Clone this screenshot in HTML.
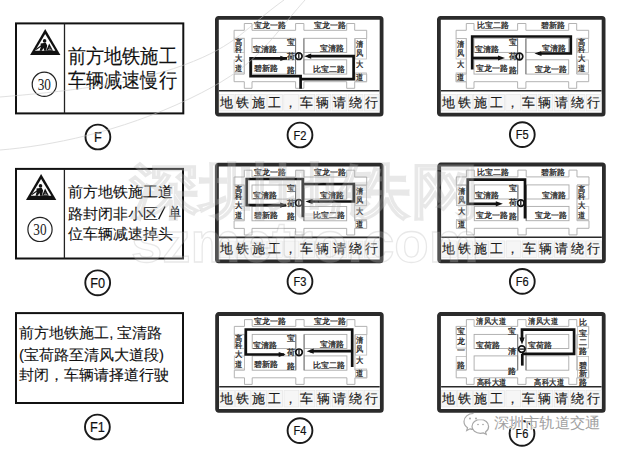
<!DOCTYPE html>
<html><head><meta charset="utf-8"><title>signs</title>
<style>
html,body{margin:0;padding:0;width:620px;height:450px;overflow:hidden;background:#fff}
svg{position:absolute;left:0;top:0;display:block}
text{font-family:"Liberation Sans", sans-serif}
</style></head><body>
<svg width="620" height="450" viewBox="0 0 620 450">
<rect x="16" y="23.4" width="167.3" height="90" fill="none" stroke="#111" stroke-width="2"/>
<line x1="64.5" y1="23.4" x2="64.5" y2="113.4" stroke="#222" stroke-width="1.3"/>
<g transform="translate(45.2,28.9) scale(1.0)"><path d="M0,0 L15.2,26 L-15.1,26 Z" fill="#111"/><path d="M0,5.2 L10.2,21.8 L-10.1,21.8 Z" fill="#fff"/><circle cx="-0.6" cy="12.0" r="1.8" fill="#111"/><path d="M-4.6,14.6 L0.6,13.9 L2.0,16.5 L0.9,21.8 L-1.0,21.8 L-1.6,19.2 L-3.4,21.8 L-5.6,21.8 L-4.4,18.2 Z" fill="#111"/><path d="M-9.2,20.6 L-3.8,16.8" stroke="#111" stroke-width="1.1"/><path d="M1.0,21.8 L4.0,14.6 L7.8,21.8 Z" fill="#111"/><path d="M3.6,19.2 L5.2,19.2 M2.8,20.6 L6.2,20.6" stroke="#fff" stroke-width="0.5"/></g>
<circle cx="44.3" cy="84.3" r="12.1" fill="none" stroke="#222" stroke-width="1.2"/>
<text x="44.3" y="89.89999999999999" style="font-family:'Liberation Serif',serif" font-size="17" fill="#222" text-anchor="middle" transform="translate(44.3,0) scale(0.78,1) translate(-44.3,0)">30</text>
<text x="68.2" y="0" font-size="18" fill="#111" stroke="#111" stroke-width="0.12" transform="translate(0,62.5) scale(1,1.1)">前方地铁施工</text>
<text x="68.2" y="0" font-size="18" fill="#111" stroke="#111" stroke-width="0.12" transform="translate(0,87.2) scale(1,1.1)">车辆减速慢行</text>
<circle cx="97.9" cy="137" r="12.4" fill="none" stroke="#1a1a1a" stroke-width="1.9"/>
<text x="97.9" y="142.19" font-size="14.5" fill="#111" stroke="#111" stroke-width="0.2" text-anchor="middle" transform="translate(97.9,0) scale(0.88,1) translate(-97.9,0)">F</text>
<rect x="16" y="168.9" width="167" height="89.6" fill="none" stroke="#111" stroke-width="2"/>
<line x1="64.4" y1="168.9" x2="64.4" y2="258.5" stroke="#222" stroke-width="1.3"/>
<g transform="translate(41.1,173.9) scale(1.0)"><path d="M0,0 L15.2,26 L-15.1,26 Z" fill="#111"/><path d="M0,5.2 L10.2,21.8 L-10.1,21.8 Z" fill="#fff"/><circle cx="-0.6" cy="12.0" r="1.8" fill="#111"/><path d="M-4.6,14.6 L0.6,13.9 L2.0,16.5 L0.9,21.8 L-1.0,21.8 L-1.6,19.2 L-3.4,21.8 L-5.6,21.8 L-4.4,18.2 Z" fill="#111"/><path d="M-9.2,20.6 L-3.8,16.8" stroke="#111" stroke-width="1.1"/><path d="M1.0,21.8 L4.0,14.6 L7.8,21.8 Z" fill="#111"/><path d="M3.6,19.2 L5.2,19.2 M2.8,20.6 L6.2,20.6" stroke="#fff" stroke-width="0.5"/></g>
<circle cx="40.0" cy="229.4" r="12.1" fill="none" stroke="#222" stroke-width="1.2"/>
<text x="40.0" y="235.0" style="font-family:'Liberation Serif',serif" font-size="17" fill="#222" text-anchor="middle" transform="translate(40.0,0) scale(0.78,1) translate(-40.0,0)">30</text>
<text x="68.0" y="196.5" font-size="15" fill="#111" stroke="#111" stroke-width="0.12" >前方地铁施工道</text>
<text x="68.0" y="218.5" font-size="15" fill="#111" stroke="#111" stroke-width="0.12" >路封闭非小区</text>
<text x="0" y="218.5" font-size="15" fill="#111" stroke="#111" stroke-width="0.12" transform="translate(169.2,0) scale(0.8,1)">单</text>
<line x1="158.6" y1="219.2" x2="165" y2="206.5" stroke="#111" stroke-width="1.3"/>
<text x="68.0" y="238.5" font-size="15" fill="#111" stroke="#111" stroke-width="0.12" >位车辆减速掉头</text>
<circle cx="97.7" cy="282.8" r="12.4" fill="none" stroke="#1a1a1a" stroke-width="1.9"/>
<text x="97.7" y="287.99" font-size="14.5" fill="#111" stroke="#111" stroke-width="0.2" text-anchor="middle" transform="translate(97.7,0) scale(0.88,1) translate(-97.7,0)">F0</text>
<rect x="16" y="313.1" width="167" height="89.9" fill="none" stroke="#111" stroke-width="2"/>
<text x="19.2" y="337.8" font-size="15" fill="#111" stroke="#111" stroke-width="0.12" >前方地铁施工<tspan dx="0">,</tspan><tspan dx="4">宝清路</tspan></text>
<text x="19.0" y="359.7" font-size="15" fill="#111" stroke="#111" stroke-width="0.12" >(宝荷路至清风大道段)</text>
<text x="18.8" y="380.2" font-size="15" fill="#111" stroke="#111" stroke-width="0.12" >封闭，车辆请择道行驶</text>
<circle cx="97.4" cy="427" r="12.4" fill="none" stroke="#1a1a1a" stroke-width="1.9"/>
<text x="97.4" y="432.19" font-size="14.5" fill="#111" stroke="#111" stroke-width="0.2" text-anchor="middle" transform="translate(97.4,0) scale(0.88,1) translate(-97.4,0)">F1</text>
<g>
<g transform="translate(215,16)">
<rect x="1.9" y="1.9" width="164.7" height="96.8" rx="1.6" fill="#fff" stroke="#2b2b2b" stroke-width="3.8"/>
<line x1="4" y1="74.7" x2="164.5" y2="74.7" stroke="#2a2a2a" stroke-width="1.6"/>
<path d="M19.1,14.3 L29.3,14.3 L29.3,7.5 L37,7.5 L37,14.3 L80.6,14.3 L80.6,7.5 L88.9,7.5 L88.9,14.3 L131.7,14.3 L131.7,7.5 L139.7,7.5 L139.7,14.3 L151.7,14.3 L151.7,22.5 L139.7,22.5 L139.7,58.1 L151.7,58.1 L151.7,65.7 L139.7,65.7 L139.7,72.3 L131.7,72.3 L131.7,65.7 L88.9,65.7 L88.9,72.3 L80.6,72.3 L80.6,65.7 L37,65.7 L37,72.3 L29.3,72.3 L29.3,65.7 L19.1,65.7 L19.1,58.1 L29.3,58.1 L29.3,22.5 L19.1,22.5 Z" fill="none" stroke="#aaa" stroke-width="0.9"/>
<rect x="37" y="22.3" width="43.599999999999994" height="14.099999999999998" fill="none" stroke="#aaa" stroke-width="0.9"/>
<rect x="37" y="43.8" width="43.599999999999994" height="14.300000000000004" fill="none" stroke="#aaa" stroke-width="0.9"/>
<rect x="88.9" y="22.3" width="42.79999999999998" height="14.099999999999998" fill="none" stroke="#aaa" stroke-width="0.9"/>
<rect x="88.9" y="43.8" width="42.79999999999998" height="14.300000000000004" fill="none" stroke="#aaa" stroke-width="0.9"/>
<line x1="80.6" y1="22.5" x2="80.6" y2="58.1" stroke="#777" stroke-width="1"/>
<line x1="88.9" y1="22.5" x2="88.9" y2="58.1" stroke="#777" stroke-width="1"/>
<rect x="19.1" y="22.2" width="10.2" height="14.2" fill="none" stroke="#bbb" stroke-width="0.8"/>
<rect x="19.1" y="44.0" width="10.2" height="12.899999999999999" fill="none" stroke="#bbb" stroke-width="0.8"/>
<rect x="140.3" y="22.4" width="11.199999999999989" height="20.6" fill="none" stroke="#bbb" stroke-width="0.8"/>
<rect x="140.3" y="56.9" width="11.199999999999989" height="8.899999999999999" fill="none" stroke="#bbb" stroke-width="0.8"/>
<text x="38.5" y="12.1" font-size="8.2" fill="#262626" stroke="#262626" stroke-width="0.28">宝龙一路</text>
<text x="98.5" y="12.2" font-size="8.2" fill="#262626" stroke="#262626" stroke-width="0.28">宝龙一路</text>
<text x="0" y="29.0" font-size="8.2" fill="#262626" stroke="#262626" stroke-width="0.28" transform="translate(20.2,0) scale(0.9,1)">高</text>
<text x="0" y="36.0" font-size="8.2" fill="#262626" stroke="#262626" stroke-width="0.28" transform="translate(20.2,0) scale(0.9,1)">科</text>
<text x="0" y="45.3" font-size="8.2" fill="#262626" stroke="#262626" stroke-width="0.28" transform="translate(20.2,0) scale(0.9,1)">大</text>
<text x="0" y="55.2" font-size="8.2" fill="#262626" stroke="#262626" stroke-width="0.28" transform="translate(20.2,0) scale(0.9,1)">道</text>
<text x="0" y="31.2" font-size="8.2" fill="#262626" stroke="#262626" stroke-width="0.28" transform="translate(141.0,0) scale(0.9,1)">清</text>
<text x="0" y="40.1" font-size="8.2" fill="#262626" stroke="#262626" stroke-width="0.28" transform="translate(141.0,0) scale(0.9,1)">风</text>
<text x="0" y="51.2" font-size="8.2" fill="#262626" stroke="#262626" stroke-width="0.28" transform="translate(141.0,0) scale(0.9,1)">大</text>
<text x="0" y="64.0" font-size="8.2" fill="#262626" stroke="#262626" stroke-width="0.28" transform="translate(141.0,0) scale(0.9,1)">道</text>
<text x="37.5" y="35.5" font-size="8.2" fill="#262626" stroke="#262626" stroke-width="0.28">宝清路</text>
<text x="38.8" y="55.4" font-size="8.2" fill="#262626" stroke="#262626" stroke-width="0.28">碧新路</text>
<text x="129.2" y="35.0" font-size="8.2" fill="#262626" stroke="#262626" stroke-width="0.28"><tspan text-anchor="end">宝清路</tspan></text>
<text x="130.0" y="55.7" font-size="8.2" fill="#262626" stroke="#262626" stroke-width="0.28"><tspan text-anchor="end">比宝二路</tspan></text>
<text x="72.2" y="28.8" font-size="8.2" fill="#262626" stroke="#262626" stroke-width="0.28">宝</text>
<text x="72.2" y="42.9" font-size="8.2" fill="#262626" stroke="#262626" stroke-width="0.28">荷</text>
<text x="72.2" y="56.5" font-size="8.2" fill="#262626" stroke="#262626" stroke-width="0.28">路</text>
<rect x="4.4" y="78.3" width="14.8" height="16.6" fill="#f6f6f6" stroke="#e3e3e3" stroke-width="0.6"/>
<text x="11.3" y="90.7" font-size="13.4" fill="#1a1a1a" stroke="#1a1a1a" stroke-width="0.15" text-anchor="middle">地</text>
<rect x="20.5" y="78.3" width="14.8" height="16.6" fill="#f6f6f6" stroke="#e3e3e3" stroke-width="0.6"/>
<text x="27.4" y="90.7" font-size="13.4" fill="#1a1a1a" stroke="#1a1a1a" stroke-width="0.15" text-anchor="middle">铁</text>
<rect x="36.6" y="78.3" width="14.8" height="16.6" fill="#f6f6f6" stroke="#e3e3e3" stroke-width="0.6"/>
<text x="43.5" y="90.7" font-size="13.4" fill="#1a1a1a" stroke="#1a1a1a" stroke-width="0.15" text-anchor="middle">施</text>
<rect x="52.7" y="78.3" width="14.8" height="16.6" fill="#f6f6f6" stroke="#e3e3e3" stroke-width="0.6"/>
<text x="59.6" y="90.7" font-size="13.4" fill="#1a1a1a" stroke="#1a1a1a" stroke-width="0.15" text-anchor="middle">工</text>
<rect x="68.8" y="78.3" width="14.8" height="16.6" fill="#f6f6f6" stroke="#e3e3e3" stroke-width="0.6"/>
<text x="75.7" y="90.7" font-size="13.4" fill="#1a1a1a" stroke="#1a1a1a" stroke-width="0.15" text-anchor="middle">，</text>
<rect x="84.9" y="78.3" width="14.8" height="16.6" fill="#f6f6f6" stroke="#e3e3e3" stroke-width="0.6"/>
<text x="91.8" y="90.7" font-size="13.4" fill="#1a1a1a" stroke="#1a1a1a" stroke-width="0.15" text-anchor="middle">车</text>
<rect x="101.0" y="78.3" width="14.8" height="16.6" fill="#f6f6f6" stroke="#e3e3e3" stroke-width="0.6"/>
<text x="107.9" y="90.7" font-size="13.4" fill="#1a1a1a" stroke="#1a1a1a" stroke-width="0.15" text-anchor="middle">辆</text>
<rect x="117.1" y="78.3" width="14.8" height="16.6" fill="#f6f6f6" stroke="#e3e3e3" stroke-width="0.6"/>
<text x="124.0" y="90.7" font-size="13.4" fill="#1a1a1a" stroke="#1a1a1a" stroke-width="0.15" text-anchor="middle">请</text>
<rect x="133.2" y="78.3" width="14.8" height="16.6" fill="#f6f6f6" stroke="#e3e3e3" stroke-width="0.6"/>
<text x="140.1" y="90.7" font-size="13.4" fill="#1a1a1a" stroke="#1a1a1a" stroke-width="0.15" text-anchor="middle">绕</text>
<rect x="149.3" y="78.3" width="14.8" height="16.6" fill="#f6f6f6" stroke="#e3e3e3" stroke-width="0.6"/>
<text x="156.2" y="90.7" font-size="13.4" fill="#1a1a1a" stroke="#1a1a1a" stroke-width="0.15" text-anchor="middle">行</text>
<path d="M72,42.4 L35.6,42.4 L35.6,60.2 L85.6,60.2 L85.6,72.7" fill="none" stroke="#111" stroke-width="2.7" stroke-linejoin="miter" stroke-linecap="butt"/>
<path d="M93,40.2 L138.6,40.2 L138.6,63.1 L85.6,63.1" fill="none" stroke="#111" stroke-width="2.7" stroke-linejoin="miter" stroke-linecap="butt"/>
<circle cx="83.8" cy="40.2" r="3.3" fill="#fff" stroke="#111" stroke-width="1.7"/>
<line x1="83.8" y1="37.800000000000004" x2="83.8" y2="42.6" stroke="#111" stroke-width="1.3"/>
</g>
<g transform="translate(215,16)"><path d="M72.3,42.4 L65.3,39.8 L65.3,45.0 Z" fill="#111"/><path d="M89.2,40.2 L96.2,37.6 L96.2,42.800000000000004 Z" fill="#111"/></g>
</g>
<circle cx="300" cy="135" r="12.4" fill="none" stroke="#1a1a1a" stroke-width="1.9"/>
<text x="300" y="139.51" font-size="12.6" fill="#111" stroke="#111" stroke-width="0.2" text-anchor="middle" transform="translate(300,0) scale(0.88,1) translate(-300,0)">F2</text>
<g transform="translate(215,162.7)">
<rect x="1.9" y="1.9" width="164.7" height="96.8" rx="1.6" fill="#fff" stroke="#2b2b2b" stroke-width="3.8"/>
<line x1="4" y1="74.7" x2="164.5" y2="74.7" stroke="#2a2a2a" stroke-width="1.6"/>
<path d="M19.1,14.3 L29.3,14.3 L29.3,7.5 L37,7.5 L37,14.3 L80.6,14.3 L80.6,7.5 L88.9,7.5 L88.9,14.3 L131.7,14.3 L131.7,7.5 L139.7,7.5 L139.7,14.3 L151.7,14.3 L151.7,22.5 L139.7,22.5 L139.7,58.1 L151.7,58.1 L151.7,65.7 L139.7,65.7 L139.7,72.3 L131.7,72.3 L131.7,65.7 L88.9,65.7 L88.9,72.3 L80.6,72.3 L80.6,65.7 L37,65.7 L37,72.3 L29.3,72.3 L29.3,65.7 L19.1,65.7 L19.1,58.1 L29.3,58.1 L29.3,22.5 L19.1,22.5 Z" fill="none" stroke="#aaa" stroke-width="0.9"/>
<rect x="37" y="22.3" width="43.599999999999994" height="14.099999999999998" fill="none" stroke="#aaa" stroke-width="0.9"/>
<rect x="37" y="43.8" width="43.599999999999994" height="14.300000000000004" fill="none" stroke="#aaa" stroke-width="0.9"/>
<rect x="88.9" y="22.3" width="42.79999999999998" height="14.099999999999998" fill="none" stroke="#aaa" stroke-width="0.9"/>
<rect x="88.9" y="43.8" width="42.79999999999998" height="14.300000000000004" fill="none" stroke="#aaa" stroke-width="0.9"/>
<line x1="80.6" y1="22.5" x2="80.6" y2="58.1" stroke="#777" stroke-width="1"/>
<line x1="88.9" y1="22.5" x2="88.9" y2="58.1" stroke="#777" stroke-width="1"/>
<rect x="19.1" y="22.2" width="10.2" height="14.2" fill="none" stroke="#bbb" stroke-width="0.8"/>
<rect x="19.1" y="44.0" width="10.2" height="12.899999999999999" fill="none" stroke="#bbb" stroke-width="0.8"/>
<rect x="140.3" y="22.4" width="11.199999999999989" height="20.6" fill="none" stroke="#bbb" stroke-width="0.8"/>
<rect x="140.3" y="56.9" width="11.199999999999989" height="8.899999999999999" fill="none" stroke="#bbb" stroke-width="0.8"/>
<text x="38.5" y="12.1" font-size="8.2" fill="#262626" stroke="#262626" stroke-width="0.28">宝龙一路</text>
<text x="98.5" y="12.2" font-size="8.2" fill="#262626" stroke="#262626" stroke-width="0.28">宝龙一路</text>
<text x="0" y="29.0" font-size="8.2" fill="#262626" stroke="#262626" stroke-width="0.28" transform="translate(20.2,0) scale(0.9,1)">高</text>
<text x="0" y="36.0" font-size="8.2" fill="#262626" stroke="#262626" stroke-width="0.28" transform="translate(20.2,0) scale(0.9,1)">科</text>
<text x="0" y="45.3" font-size="8.2" fill="#262626" stroke="#262626" stroke-width="0.28" transform="translate(20.2,0) scale(0.9,1)">大</text>
<text x="0" y="55.2" font-size="8.2" fill="#262626" stroke="#262626" stroke-width="0.28" transform="translate(20.2,0) scale(0.9,1)">道</text>
<text x="0" y="31.2" font-size="8.2" fill="#262626" stroke="#262626" stroke-width="0.28" transform="translate(141.0,0) scale(0.9,1)">清</text>
<text x="0" y="40.1" font-size="8.2" fill="#262626" stroke="#262626" stroke-width="0.28" transform="translate(141.0,0) scale(0.9,1)">风</text>
<text x="0" y="51.2" font-size="8.2" fill="#262626" stroke="#262626" stroke-width="0.28" transform="translate(141.0,0) scale(0.9,1)">大</text>
<text x="0" y="64.0" font-size="8.2" fill="#262626" stroke="#262626" stroke-width="0.28" transform="translate(141.0,0) scale(0.9,1)">道</text>
<text x="37.5" y="35.5" font-size="8.2" fill="#262626" stroke="#262626" stroke-width="0.28">宝清路</text>
<text x="38.8" y="55.4" font-size="8.2" fill="#262626" stroke="#262626" stroke-width="0.28">碧新路</text>
<text x="129.2" y="35.0" font-size="8.2" fill="#262626" stroke="#262626" stroke-width="0.28"><tspan text-anchor="end">宝清路</tspan></text>
<text x="130.0" y="55.7" font-size="8.2" fill="#262626" stroke="#262626" stroke-width="0.28"><tspan text-anchor="end">比宝二路</tspan></text>
<text x="72.2" y="28.8" font-size="8.2" fill="#262626" stroke="#262626" stroke-width="0.28">宝</text>
<text x="72.2" y="42.9" font-size="8.2" fill="#262626" stroke="#262626" stroke-width="0.28">荷</text>
<text x="72.2" y="56.5" font-size="8.2" fill="#262626" stroke="#262626" stroke-width="0.28">路</text>
<rect x="4.4" y="78.3" width="14.8" height="16.6" fill="#f6f6f6" stroke="#e3e3e3" stroke-width="0.6"/>
<text x="11.3" y="90.7" font-size="13.4" fill="#1a1a1a" stroke="#1a1a1a" stroke-width="0.15" text-anchor="middle">地</text>
<rect x="20.5" y="78.3" width="14.8" height="16.6" fill="#f6f6f6" stroke="#e3e3e3" stroke-width="0.6"/>
<text x="27.4" y="90.7" font-size="13.4" fill="#1a1a1a" stroke="#1a1a1a" stroke-width="0.15" text-anchor="middle">铁</text>
<rect x="36.6" y="78.3" width="14.8" height="16.6" fill="#f6f6f6" stroke="#e3e3e3" stroke-width="0.6"/>
<text x="43.5" y="90.7" font-size="13.4" fill="#1a1a1a" stroke="#1a1a1a" stroke-width="0.15" text-anchor="middle">施</text>
<rect x="52.7" y="78.3" width="14.8" height="16.6" fill="#f6f6f6" stroke="#e3e3e3" stroke-width="0.6"/>
<text x="59.6" y="90.7" font-size="13.4" fill="#1a1a1a" stroke="#1a1a1a" stroke-width="0.15" text-anchor="middle">工</text>
<rect x="68.8" y="78.3" width="14.8" height="16.6" fill="#f6f6f6" stroke="#e3e3e3" stroke-width="0.6"/>
<text x="75.7" y="90.7" font-size="13.4" fill="#1a1a1a" stroke="#1a1a1a" stroke-width="0.15" text-anchor="middle">，</text>
<rect x="84.9" y="78.3" width="14.8" height="16.6" fill="#f6f6f6" stroke="#e3e3e3" stroke-width="0.6"/>
<text x="91.8" y="90.7" font-size="13.4" fill="#1a1a1a" stroke="#1a1a1a" stroke-width="0.15" text-anchor="middle">车</text>
<rect x="101.0" y="78.3" width="14.8" height="16.6" fill="#f6f6f6" stroke="#e3e3e3" stroke-width="0.6"/>
<text x="107.9" y="90.7" font-size="13.4" fill="#1a1a1a" stroke="#1a1a1a" stroke-width="0.15" text-anchor="middle">辆</text>
<rect x="117.1" y="78.3" width="14.8" height="16.6" fill="#f6f6f6" stroke="#e3e3e3" stroke-width="0.6"/>
<text x="124.0" y="90.7" font-size="13.4" fill="#1a1a1a" stroke="#1a1a1a" stroke-width="0.15" text-anchor="middle">请</text>
<rect x="133.2" y="78.3" width="14.8" height="16.6" fill="#f6f6f6" stroke="#e3e3e3" stroke-width="0.6"/>
<text x="140.1" y="90.7" font-size="13.4" fill="#1a1a1a" stroke="#1a1a1a" stroke-width="0.15" text-anchor="middle">绕</text>
<rect x="149.3" y="78.3" width="14.8" height="16.6" fill="#f6f6f6" stroke="#e3e3e3" stroke-width="0.6"/>
<text x="156.2" y="90.7" font-size="13.4" fill="#1a1a1a" stroke="#1a1a1a" stroke-width="0.15" text-anchor="middle">行</text>
<path d="M71,42.5 L31.7,42.5 L31.7,16.3 L87.8,16.3 L87.8,54.5" fill="none" stroke="#111" stroke-width="2.7" stroke-linejoin="miter" stroke-linecap="butt"/>
<path d="M87.8,21.3 L138.8,21.3 L138.8,38.8 L95,38.8" fill="none" stroke="#111" stroke-width="2.7" stroke-linejoin="miter" stroke-linecap="butt"/>
<circle cx="83.8" cy="40.2" r="3.3" fill="#fff" stroke="#111" stroke-width="1.7"/>
<line x1="83.8" y1="37.800000000000004" x2="83.8" y2="42.6" stroke="#111" stroke-width="1.3"/>
</g>
<g transform="translate(215,162.7)"><path d="M72.2,42.5 L65.2,39.9 L65.2,45.1 Z" fill="#111"/><path d="M90.5,38.8 L97.5,36.199999999999996 L97.5,41.4 Z" fill="#111"/></g>
<circle cx="300" cy="281.4" r="12.4" fill="none" stroke="#1a1a1a" stroke-width="1.9"/>
<text x="300" y="285.91" font-size="12.6" fill="#111" stroke="#111" stroke-width="0.2" text-anchor="middle" transform="translate(300,0) scale(0.88,1) translate(-300,0)">F3</text>
<g transform="translate(215.2,312.1)">
<rect x="1.9" y="1.9" width="164.7" height="96.8" rx="1.6" fill="#fff" stroke="#2b2b2b" stroke-width="3.8"/>
<line x1="4" y1="74.7" x2="164.5" y2="74.7" stroke="#2a2a2a" stroke-width="1.6"/>
<path d="M19.1,14.3 L29.3,14.3 L29.3,7.5 L37,7.5 L37,14.3 L80.6,14.3 L80.6,7.5 L88.9,7.5 L88.9,14.3 L131.7,14.3 L131.7,7.5 L139.7,7.5 L139.7,14.3 L151.7,14.3 L151.7,22.5 L139.7,22.5 L139.7,58.1 L151.7,58.1 L151.7,65.7 L139.7,65.7 L139.7,72.3 L131.7,72.3 L131.7,65.7 L88.9,65.7 L88.9,72.3 L80.6,72.3 L80.6,65.7 L37,65.7 L37,72.3 L29.3,72.3 L29.3,65.7 L19.1,65.7 L19.1,58.1 L29.3,58.1 L29.3,22.5 L19.1,22.5 Z" fill="none" stroke="#aaa" stroke-width="0.9"/>
<rect x="37" y="22.3" width="43.599999999999994" height="14.099999999999998" fill="none" stroke="#aaa" stroke-width="0.9"/>
<rect x="37" y="43.8" width="43.599999999999994" height="14.300000000000004" fill="none" stroke="#aaa" stroke-width="0.9"/>
<rect x="88.9" y="22.3" width="42.79999999999998" height="14.099999999999998" fill="none" stroke="#aaa" stroke-width="0.9"/>
<rect x="88.9" y="43.8" width="42.79999999999998" height="14.300000000000004" fill="none" stroke="#aaa" stroke-width="0.9"/>
<line x1="80.6" y1="22.5" x2="80.6" y2="58.1" stroke="#777" stroke-width="1"/>
<line x1="88.9" y1="22.5" x2="88.9" y2="58.1" stroke="#777" stroke-width="1"/>
<rect x="19.1" y="22.2" width="10.2" height="14.2" fill="none" stroke="#bbb" stroke-width="0.8"/>
<rect x="19.1" y="44.0" width="10.2" height="12.899999999999999" fill="none" stroke="#bbb" stroke-width="0.8"/>
<rect x="140.3" y="22.4" width="11.199999999999989" height="20.6" fill="none" stroke="#bbb" stroke-width="0.8"/>
<rect x="140.3" y="56.9" width="11.199999999999989" height="8.899999999999999" fill="none" stroke="#bbb" stroke-width="0.8"/>
<text x="38.5" y="12.1" font-size="8.2" fill="#262626" stroke="#262626" stroke-width="0.28">宝龙一路</text>
<text x="98.5" y="12.2" font-size="8.2" fill="#262626" stroke="#262626" stroke-width="0.28">宝龙一路</text>
<text x="0" y="29.0" font-size="8.2" fill="#262626" stroke="#262626" stroke-width="0.28" transform="translate(20.2,0) scale(0.9,1)">高</text>
<text x="0" y="36.0" font-size="8.2" fill="#262626" stroke="#262626" stroke-width="0.28" transform="translate(20.2,0) scale(0.9,1)">科</text>
<text x="0" y="45.3" font-size="8.2" fill="#262626" stroke="#262626" stroke-width="0.28" transform="translate(20.2,0) scale(0.9,1)">大</text>
<text x="0" y="55.2" font-size="8.2" fill="#262626" stroke="#262626" stroke-width="0.28" transform="translate(20.2,0) scale(0.9,1)">道</text>
<text x="0" y="31.2" font-size="8.2" fill="#262626" stroke="#262626" stroke-width="0.28" transform="translate(141.0,0) scale(0.9,1)">清</text>
<text x="0" y="40.1" font-size="8.2" fill="#262626" stroke="#262626" stroke-width="0.28" transform="translate(141.0,0) scale(0.9,1)">风</text>
<text x="0" y="51.2" font-size="8.2" fill="#262626" stroke="#262626" stroke-width="0.28" transform="translate(141.0,0) scale(0.9,1)">大</text>
<text x="0" y="64.0" font-size="8.2" fill="#262626" stroke="#262626" stroke-width="0.28" transform="translate(141.0,0) scale(0.9,1)">道</text>
<text x="37.5" y="35.5" font-size="8.2" fill="#262626" stroke="#262626" stroke-width="0.28">宝清路</text>
<text x="38.8" y="55.4" font-size="8.2" fill="#262626" stroke="#262626" stroke-width="0.28">碧新路</text>
<text x="129.2" y="35.0" font-size="8.2" fill="#262626" stroke="#262626" stroke-width="0.28"><tspan text-anchor="end">宝清路</tspan></text>
<text x="130.0" y="55.7" font-size="8.2" fill="#262626" stroke="#262626" stroke-width="0.28"><tspan text-anchor="end">比宝二路</tspan></text>
<text x="72.2" y="28.8" font-size="8.2" fill="#262626" stroke="#262626" stroke-width="0.28">宝</text>
<text x="72.2" y="42.9" font-size="8.2" fill="#262626" stroke="#262626" stroke-width="0.28">荷</text>
<text x="72.2" y="56.5" font-size="8.2" fill="#262626" stroke="#262626" stroke-width="0.28">路</text>
<rect x="4.4" y="78.3" width="14.8" height="16.6" fill="#f6f6f6" stroke="#e3e3e3" stroke-width="0.6"/>
<text x="11.3" y="90.7" font-size="13.4" fill="#1a1a1a" stroke="#1a1a1a" stroke-width="0.15" text-anchor="middle">地</text>
<rect x="20.5" y="78.3" width="14.8" height="16.6" fill="#f6f6f6" stroke="#e3e3e3" stroke-width="0.6"/>
<text x="27.4" y="90.7" font-size="13.4" fill="#1a1a1a" stroke="#1a1a1a" stroke-width="0.15" text-anchor="middle">铁</text>
<rect x="36.6" y="78.3" width="14.8" height="16.6" fill="#f6f6f6" stroke="#e3e3e3" stroke-width="0.6"/>
<text x="43.5" y="90.7" font-size="13.4" fill="#1a1a1a" stroke="#1a1a1a" stroke-width="0.15" text-anchor="middle">施</text>
<rect x="52.7" y="78.3" width="14.8" height="16.6" fill="#f6f6f6" stroke="#e3e3e3" stroke-width="0.6"/>
<text x="59.6" y="90.7" font-size="13.4" fill="#1a1a1a" stroke="#1a1a1a" stroke-width="0.15" text-anchor="middle">工</text>
<rect x="68.8" y="78.3" width="14.8" height="16.6" fill="#f6f6f6" stroke="#e3e3e3" stroke-width="0.6"/>
<text x="75.7" y="90.7" font-size="13.4" fill="#1a1a1a" stroke="#1a1a1a" stroke-width="0.15" text-anchor="middle">，</text>
<rect x="84.9" y="78.3" width="14.8" height="16.6" fill="#f6f6f6" stroke="#e3e3e3" stroke-width="0.6"/>
<text x="91.8" y="90.7" font-size="13.4" fill="#1a1a1a" stroke="#1a1a1a" stroke-width="0.15" text-anchor="middle">车</text>
<rect x="101.0" y="78.3" width="14.8" height="16.6" fill="#f6f6f6" stroke="#e3e3e3" stroke-width="0.6"/>
<text x="107.9" y="90.7" font-size="13.4" fill="#1a1a1a" stroke="#1a1a1a" stroke-width="0.15" text-anchor="middle">辆</text>
<rect x="117.1" y="78.3" width="14.8" height="16.6" fill="#f6f6f6" stroke="#e3e3e3" stroke-width="0.6"/>
<text x="124.0" y="90.7" font-size="13.4" fill="#1a1a1a" stroke="#1a1a1a" stroke-width="0.15" text-anchor="middle">请</text>
<rect x="133.2" y="78.3" width="14.8" height="16.6" fill="#f6f6f6" stroke="#e3e3e3" stroke-width="0.6"/>
<text x="140.1" y="90.7" font-size="13.4" fill="#1a1a1a" stroke="#1a1a1a" stroke-width="0.15" text-anchor="middle">绕</text>
<rect x="149.3" y="78.3" width="14.8" height="16.6" fill="#f6f6f6" stroke="#e3e3e3" stroke-width="0.6"/>
<text x="156.2" y="90.7" font-size="13.4" fill="#1a1a1a" stroke="#1a1a1a" stroke-width="0.15" text-anchor="middle">行</text>
<path d="M69,42.4 L30.6,42.4 L30.6,17.4 L137,17.4 L137,55" fill="none" stroke="#111" stroke-width="2.7" stroke-linejoin="miter" stroke-linecap="butt"/>
<path d="M137,39.1 L95,39.1" fill="none" stroke="#111" stroke-width="2.7" stroke-linejoin="miter" stroke-linecap="butt"/>
<circle cx="83.8" cy="40.2" r="3.3" fill="#fff" stroke="#111" stroke-width="1.7"/>
<line x1="83.8" y1="37.800000000000004" x2="83.8" y2="42.6" stroke="#111" stroke-width="1.3"/>
</g>
<g transform="translate(215.2,312.1)"><path d="M70.5,42.4 L63.5,39.8 L63.5,45.0 Z" fill="#111"/><path d="M91.5,39.1 L98.5,36.5 L98.5,41.7 Z" fill="#111"/></g>
<circle cx="300" cy="430.6" r="12.4" fill="none" stroke="#1a1a1a" stroke-width="1.9"/>
<text x="300" y="435.11" font-size="12.6" fill="#111" stroke="#111" stroke-width="0.2" text-anchor="middle" transform="translate(300,0) scale(0.88,1) translate(-300,0)">F4</text>
<g transform="translate(437,16)">
<rect x="1.9" y="1.9" width="164.7" height="96.8" rx="1.6" fill="#fff" stroke="#2b2b2b" stroke-width="3.8"/>
<line x1="4" y1="74.7" x2="164.5" y2="74.7" stroke="#2a2a2a" stroke-width="1.6"/>
<path d="M19.1,14.3 L29.3,14.3 L29.3,7.5 L37,7.5 L37,14.3 L80.6,14.3 L80.6,7.5 L88.9,7.5 L88.9,14.3 L131.7,14.3 L131.7,7.5 L139.7,7.5 L139.7,14.3 L151.7,14.3 L151.7,22.5 L139.7,22.5 L139.7,58.1 L151.7,58.1 L151.7,65.7 L139.7,65.7 L139.7,72.3 L131.7,72.3 L131.7,65.7 L88.9,65.7 L88.9,72.3 L80.6,72.3 L80.6,65.7 L37,65.7 L37,72.3 L29.3,72.3 L29.3,65.7 L19.1,65.7 L19.1,58.1 L29.3,58.1 L29.3,22.5 L19.1,22.5 Z" fill="none" stroke="#aaa" stroke-width="0.9"/>
<rect x="37" y="22.3" width="43.599999999999994" height="14.099999999999998" fill="none" stroke="#aaa" stroke-width="0.9"/>
<rect x="37" y="43.8" width="43.599999999999994" height="14.300000000000004" fill="none" stroke="#aaa" stroke-width="0.9"/>
<rect x="88.9" y="22.3" width="42.79999999999998" height="14.099999999999998" fill="none" stroke="#aaa" stroke-width="0.9"/>
<rect x="88.9" y="43.8" width="42.79999999999998" height="14.300000000000004" fill="none" stroke="#aaa" stroke-width="0.9"/>
<line x1="80.6" y1="22.5" x2="80.6" y2="58.1" stroke="#777" stroke-width="1"/>
<line x1="88.9" y1="22.5" x2="88.9" y2="58.1" stroke="#777" stroke-width="1"/>
<rect x="19.1" y="22.4" width="10.2" height="20.6" fill="none" stroke="#bbb" stroke-width="0.8"/>
<rect x="19.1" y="56.9" width="10.2" height="8.899999999999999" fill="none" stroke="#bbb" stroke-width="0.8"/>
<rect x="140.3" y="22.2" width="11.199999999999989" height="14.2" fill="none" stroke="#bbb" stroke-width="0.8"/>
<rect x="140.3" y="44.0" width="11.199999999999989" height="12.899999999999999" fill="none" stroke="#bbb" stroke-width="0.8"/>
<text x="39.8" y="12.1" font-size="8.2" fill="#262626" stroke="#262626" stroke-width="0.28">比宝二路</text>
<text x="104.0" y="12.2" font-size="8.2" fill="#262626" stroke="#262626" stroke-width="0.28">碧新路</text>
<text x="0" y="31.2" font-size="8.2" fill="#262626" stroke="#262626" stroke-width="0.28" transform="translate(20.2,0) scale(0.9,1)">清</text>
<text x="0" y="40.1" font-size="8.2" fill="#262626" stroke="#262626" stroke-width="0.28" transform="translate(20.2,0) scale(0.9,1)">风</text>
<text x="0" y="51.2" font-size="8.2" fill="#262626" stroke="#262626" stroke-width="0.28" transform="translate(20.2,0) scale(0.9,1)">大</text>
<text x="0" y="64.0" font-size="8.2" fill="#262626" stroke="#262626" stroke-width="0.28" transform="translate(20.2,0) scale(0.9,1)">道</text>
<text x="0" y="29.0" font-size="8.2" fill="#262626" stroke="#262626" stroke-width="0.28" transform="translate(141.0,0) scale(0.9,1)">高</text>
<text x="0" y="36.0" font-size="8.2" fill="#262626" stroke="#262626" stroke-width="0.28" transform="translate(141.0,0) scale(0.9,1)">科</text>
<text x="0" y="45.3" font-size="8.2" fill="#262626" stroke="#262626" stroke-width="0.28" transform="translate(141.0,0) scale(0.9,1)">大</text>
<text x="0" y="55.2" font-size="8.2" fill="#262626" stroke="#262626" stroke-width="0.28" transform="translate(141.0,0) scale(0.9,1)">道</text>
<text x="37.5" y="35.5" font-size="8.2" fill="#262626" stroke="#262626" stroke-width="0.28">宝清路</text>
<text x="38.8" y="55.4" font-size="8.2" fill="#262626" stroke="#262626" stroke-width="0.28">宝龙一路</text>
<text x="129.2" y="35.0" font-size="8.2" fill="#262626" stroke="#262626" stroke-width="0.28"><tspan text-anchor="end">宝清路</tspan></text>
<text x="130.0" y="55.7" font-size="8.2" fill="#262626" stroke="#262626" stroke-width="0.28"><tspan text-anchor="end">宝龙一路</tspan></text>
<text x="72.2" y="28.8" font-size="8.2" fill="#262626" stroke="#262626" stroke-width="0.28">宝</text>
<text x="72.2" y="42.9" font-size="8.2" fill="#262626" stroke="#262626" stroke-width="0.28">荷</text>
<text x="72.2" y="56.5" font-size="8.2" fill="#262626" stroke="#262626" stroke-width="0.28">路</text>
<rect x="4.4" y="78.3" width="14.8" height="16.6" fill="#f6f6f6" stroke="#e3e3e3" stroke-width="0.6"/>
<text x="11.3" y="90.7" font-size="13.4" fill="#1a1a1a" stroke="#1a1a1a" stroke-width="0.15" text-anchor="middle">地</text>
<rect x="20.5" y="78.3" width="14.8" height="16.6" fill="#f6f6f6" stroke="#e3e3e3" stroke-width="0.6"/>
<text x="27.4" y="90.7" font-size="13.4" fill="#1a1a1a" stroke="#1a1a1a" stroke-width="0.15" text-anchor="middle">铁</text>
<rect x="36.6" y="78.3" width="14.8" height="16.6" fill="#f6f6f6" stroke="#e3e3e3" stroke-width="0.6"/>
<text x="43.5" y="90.7" font-size="13.4" fill="#1a1a1a" stroke="#1a1a1a" stroke-width="0.15" text-anchor="middle">施</text>
<rect x="52.7" y="78.3" width="14.8" height="16.6" fill="#f6f6f6" stroke="#e3e3e3" stroke-width="0.6"/>
<text x="59.6" y="90.7" font-size="13.4" fill="#1a1a1a" stroke="#1a1a1a" stroke-width="0.15" text-anchor="middle">工</text>
<rect x="68.8" y="78.3" width="14.8" height="16.6" fill="#f6f6f6" stroke="#e3e3e3" stroke-width="0.6"/>
<text x="75.7" y="90.7" font-size="13.4" fill="#1a1a1a" stroke="#1a1a1a" stroke-width="0.15" text-anchor="middle">，</text>
<rect x="84.9" y="78.3" width="14.8" height="16.6" fill="#f6f6f6" stroke="#e3e3e3" stroke-width="0.6"/>
<text x="91.8" y="90.7" font-size="13.4" fill="#1a1a1a" stroke="#1a1a1a" stroke-width="0.15" text-anchor="middle">车</text>
<rect x="101.0" y="78.3" width="14.8" height="16.6" fill="#f6f6f6" stroke="#e3e3e3" stroke-width="0.6"/>
<text x="107.9" y="90.7" font-size="13.4" fill="#1a1a1a" stroke="#1a1a1a" stroke-width="0.15" text-anchor="middle">辆</text>
<rect x="117.1" y="78.3" width="14.8" height="16.6" fill="#f6f6f6" stroke="#e3e3e3" stroke-width="0.6"/>
<text x="124.0" y="90.7" font-size="13.4" fill="#1a1a1a" stroke="#1a1a1a" stroke-width="0.15" text-anchor="middle">请</text>
<rect x="133.2" y="78.3" width="14.8" height="16.6" fill="#f6f6f6" stroke="#e3e3e3" stroke-width="0.6"/>
<text x="140.1" y="90.7" font-size="13.4" fill="#1a1a1a" stroke="#1a1a1a" stroke-width="0.15" text-anchor="middle">绕</text>
<rect x="149.3" y="78.3" width="14.8" height="16.6" fill="#f6f6f6" stroke="#e3e3e3" stroke-width="0.6"/>
<text x="156.2" y="90.7" font-size="13.4" fill="#1a1a1a" stroke="#1a1a1a" stroke-width="0.15" text-anchor="middle">行</text>
<path d="M35.2,53.5 L35.2,20.5 L133.8,20.5 L133.8,37.5 L101,37.5" fill="none" stroke="#111" stroke-width="2.7" stroke-linejoin="miter" stroke-linecap="butt"/>
<path d="M35.2,42 L63,42" fill="none" stroke="#111" stroke-width="2.7" stroke-linejoin="miter" stroke-linecap="butt"/>
<circle cx="82.5" cy="40.5" r="3.3" fill="#fff" stroke="#111" stroke-width="1.7"/>
<line x1="82.5" y1="38.1" x2="82.5" y2="42.9" stroke="#111" stroke-width="1.3"/>
</g>
<g transform="translate(437,16)"><path d="M68,42 L61,39.4 L61,44.6 Z" fill="#111"/><path d="M97.5,37.5 L104.5,34.9 L104.5,40.1 Z" fill="#111"/></g>
<circle cx="522.3" cy="134.6" r="12.4" fill="none" stroke="#1a1a1a" stroke-width="1.9"/>
<text x="522.3" y="139.11" font-size="12.6" fill="#111" stroke="#111" stroke-width="0.2" text-anchor="middle" transform="translate(522.3,0) scale(0.88,1) translate(-522.3,0)">F5</text>
<g transform="translate(437.3,162.6)">
<rect x="1.9" y="1.9" width="164.7" height="96.8" rx="1.6" fill="#fff" stroke="#2b2b2b" stroke-width="3.8"/>
<line x1="4" y1="74.7" x2="164.5" y2="74.7" stroke="#2a2a2a" stroke-width="1.6"/>
<path d="M19.1,14.3 L29.3,14.3 L29.3,7.5 L37,7.5 L37,14.3 L80.6,14.3 L80.6,7.5 L88.9,7.5 L88.9,14.3 L131.7,14.3 L131.7,7.5 L139.7,7.5 L139.7,14.3 L151.7,14.3 L151.7,22.5 L139.7,22.5 L139.7,58.1 L151.7,58.1 L151.7,65.7 L139.7,65.7 L139.7,72.3 L131.7,72.3 L131.7,65.7 L88.9,65.7 L88.9,72.3 L80.6,72.3 L80.6,65.7 L37,65.7 L37,72.3 L29.3,72.3 L29.3,65.7 L19.1,65.7 L19.1,58.1 L29.3,58.1 L29.3,22.5 L19.1,22.5 Z" fill="none" stroke="#aaa" stroke-width="0.9"/>
<rect x="37" y="22.3" width="43.599999999999994" height="14.099999999999998" fill="none" stroke="#aaa" stroke-width="0.9"/>
<rect x="37" y="43.8" width="43.599999999999994" height="14.300000000000004" fill="none" stroke="#aaa" stroke-width="0.9"/>
<rect x="88.9" y="22.3" width="42.79999999999998" height="14.099999999999998" fill="none" stroke="#aaa" stroke-width="0.9"/>
<rect x="88.9" y="43.8" width="42.79999999999998" height="14.300000000000004" fill="none" stroke="#aaa" stroke-width="0.9"/>
<line x1="80.6" y1="22.5" x2="80.6" y2="58.1" stroke="#777" stroke-width="1"/>
<line x1="88.9" y1="22.5" x2="88.9" y2="58.1" stroke="#777" stroke-width="1"/>
<rect x="19.1" y="22.4" width="10.2" height="20.6" fill="none" stroke="#bbb" stroke-width="0.8"/>
<rect x="19.1" y="56.9" width="10.2" height="8.899999999999999" fill="none" stroke="#bbb" stroke-width="0.8"/>
<rect x="140.3" y="22.2" width="11.199999999999989" height="14.2" fill="none" stroke="#bbb" stroke-width="0.8"/>
<rect x="140.3" y="44.0" width="11.199999999999989" height="12.899999999999999" fill="none" stroke="#bbb" stroke-width="0.8"/>
<text x="39.8" y="12.1" font-size="8.2" fill="#262626" stroke="#262626" stroke-width="0.28">比宝二路</text>
<text x="104.0" y="12.2" font-size="8.2" fill="#262626" stroke="#262626" stroke-width="0.28">碧新路</text>
<text x="0" y="31.2" font-size="8.2" fill="#262626" stroke="#262626" stroke-width="0.28" transform="translate(20.2,0) scale(0.9,1)">清</text>
<text x="0" y="40.1" font-size="8.2" fill="#262626" stroke="#262626" stroke-width="0.28" transform="translate(20.2,0) scale(0.9,1)">风</text>
<text x="0" y="51.2" font-size="8.2" fill="#262626" stroke="#262626" stroke-width="0.28" transform="translate(20.2,0) scale(0.9,1)">大</text>
<text x="0" y="64.0" font-size="8.2" fill="#262626" stroke="#262626" stroke-width="0.28" transform="translate(20.2,0) scale(0.9,1)">道</text>
<text x="0" y="29.0" font-size="8.2" fill="#262626" stroke="#262626" stroke-width="0.28" transform="translate(141.0,0) scale(0.9,1)">高</text>
<text x="0" y="36.0" font-size="8.2" fill="#262626" stroke="#262626" stroke-width="0.28" transform="translate(141.0,0) scale(0.9,1)">科</text>
<text x="0" y="45.3" font-size="8.2" fill="#262626" stroke="#262626" stroke-width="0.28" transform="translate(141.0,0) scale(0.9,1)">大</text>
<text x="0" y="55.2" font-size="8.2" fill="#262626" stroke="#262626" stroke-width="0.28" transform="translate(141.0,0) scale(0.9,1)">道</text>
<text x="37.5" y="35.5" font-size="8.2" fill="#262626" stroke="#262626" stroke-width="0.28">宝清路</text>
<text x="38.8" y="55.4" font-size="8.2" fill="#262626" stroke="#262626" stroke-width="0.28">宝龙一路</text>
<text x="129.2" y="35.0" font-size="8.2" fill="#262626" stroke="#262626" stroke-width="0.28"><tspan text-anchor="end">宝清路</tspan></text>
<text x="130.0" y="55.7" font-size="8.2" fill="#262626" stroke="#262626" stroke-width="0.28"><tspan text-anchor="end">宝龙一路</tspan></text>
<text x="72.2" y="28.8" font-size="8.2" fill="#262626" stroke="#262626" stroke-width="0.28">宝</text>
<text x="72.2" y="42.9" font-size="8.2" fill="#262626" stroke="#262626" stroke-width="0.28">荷</text>
<text x="72.2" y="56.5" font-size="8.2" fill="#262626" stroke="#262626" stroke-width="0.28">路</text>
<rect x="4.4" y="78.3" width="14.8" height="16.6" fill="#f6f6f6" stroke="#e3e3e3" stroke-width="0.6"/>
<text x="11.3" y="90.7" font-size="13.4" fill="#1a1a1a" stroke="#1a1a1a" stroke-width="0.15" text-anchor="middle">地</text>
<rect x="20.5" y="78.3" width="14.8" height="16.6" fill="#f6f6f6" stroke="#e3e3e3" stroke-width="0.6"/>
<text x="27.4" y="90.7" font-size="13.4" fill="#1a1a1a" stroke="#1a1a1a" stroke-width="0.15" text-anchor="middle">铁</text>
<rect x="36.6" y="78.3" width="14.8" height="16.6" fill="#f6f6f6" stroke="#e3e3e3" stroke-width="0.6"/>
<text x="43.5" y="90.7" font-size="13.4" fill="#1a1a1a" stroke="#1a1a1a" stroke-width="0.15" text-anchor="middle">施</text>
<rect x="52.7" y="78.3" width="14.8" height="16.6" fill="#f6f6f6" stroke="#e3e3e3" stroke-width="0.6"/>
<text x="59.6" y="90.7" font-size="13.4" fill="#1a1a1a" stroke="#1a1a1a" stroke-width="0.15" text-anchor="middle">工</text>
<rect x="68.8" y="78.3" width="14.8" height="16.6" fill="#f6f6f6" stroke="#e3e3e3" stroke-width="0.6"/>
<text x="75.7" y="90.7" font-size="13.4" fill="#1a1a1a" stroke="#1a1a1a" stroke-width="0.15" text-anchor="middle">，</text>
<rect x="84.9" y="78.3" width="14.8" height="16.6" fill="#f6f6f6" stroke="#e3e3e3" stroke-width="0.6"/>
<text x="91.8" y="90.7" font-size="13.4" fill="#1a1a1a" stroke="#1a1a1a" stroke-width="0.15" text-anchor="middle">车</text>
<rect x="101.0" y="78.3" width="14.8" height="16.6" fill="#f6f6f6" stroke="#e3e3e3" stroke-width="0.6"/>
<text x="107.9" y="90.7" font-size="13.4" fill="#1a1a1a" stroke="#1a1a1a" stroke-width="0.15" text-anchor="middle">辆</text>
<rect x="117.1" y="78.3" width="14.8" height="16.6" fill="#f6f6f6" stroke="#e3e3e3" stroke-width="0.6"/>
<text x="124.0" y="90.7" font-size="13.4" fill="#1a1a1a" stroke="#1a1a1a" stroke-width="0.15" text-anchor="middle">请</text>
<rect x="133.2" y="78.3" width="14.8" height="16.6" fill="#f6f6f6" stroke="#e3e3e3" stroke-width="0.6"/>
<text x="140.1" y="90.7" font-size="13.4" fill="#1a1a1a" stroke="#1a1a1a" stroke-width="0.15" text-anchor="middle">绕</text>
<rect x="149.3" y="78.3" width="14.8" height="16.6" fill="#f6f6f6" stroke="#e3e3e3" stroke-width="0.6"/>
<text x="156.2" y="90.7" font-size="13.4" fill="#1a1a1a" stroke="#1a1a1a" stroke-width="0.15" text-anchor="middle">行</text>
<path d="M60,41.2 L30.5,41.2 L30.5,17 L87.7,17 L87.7,56" fill="none" stroke="#111" stroke-width="2.7" stroke-linejoin="miter" stroke-linecap="butt"/>
<circle cx="83.5" cy="40.5" r="3.3" fill="#fff" stroke="#111" stroke-width="1.7"/>
<line x1="83.5" y1="38.1" x2="83.5" y2="42.9" stroke="#111" stroke-width="1.3"/>
</g>
<g transform="translate(437.3,162.6)"><path d="M65.5,41.2 L58.5,38.6 L58.5,43.800000000000004 Z" fill="#111"/></g>
<circle cx="522.3" cy="281.4" r="12.4" fill="none" stroke="#1a1a1a" stroke-width="1.9"/>
<text x="522.3" y="285.91" font-size="12.6" fill="#111" stroke="#111" stroke-width="0.2" text-anchor="middle" transform="translate(522.3,0) scale(0.88,1) translate(-522.3,0)">F6</text>
<g transform="translate(437.1,312.1)">
<rect x="1.9" y="1.9" width="164.7" height="96.8" rx="1.6" fill="#fff" stroke="#2b2b2b" stroke-width="3.8"/>
<line x1="4" y1="74.7" x2="164.5" y2="74.7" stroke="#2a2a2a" stroke-width="1.6"/>
<path d="M19.1,14.3 L29.3,14.3 L29.3,7.5 L37,7.5 L37,14.3 L80.6,14.3 L80.6,7.5 L88.9,7.5 L88.9,14.3 L131.7,14.3 L131.7,7.5 L139.7,7.5 L139.7,14.3 L151.7,14.3 L151.7,22.5 L139.7,22.5 L139.7,58.1 L151.7,58.1 L151.7,65.7 L139.7,65.7 L139.7,72.3 L131.7,72.3 L131.7,65.7 L88.9,65.7 L88.9,72.3 L80.6,72.3 L80.6,65.7 L37,65.7 L37,72.3 L29.3,72.3 L29.3,65.7 L19.1,65.7 L19.1,58.1 L29.3,58.1 L29.3,22.5 L19.1,22.5 Z" fill="none" stroke="#aaa" stroke-width="0.9"/>
<rect x="37" y="22.3" width="43.599999999999994" height="14.099999999999998" fill="none" stroke="#aaa" stroke-width="0.9"/>
<rect x="37" y="43.8" width="43.599999999999994" height="14.300000000000004" fill="none" stroke="#aaa" stroke-width="0.9"/>
<rect x="88.9" y="22.3" width="42.79999999999998" height="14.099999999999998" fill="none" stroke="#aaa" stroke-width="0.9"/>
<rect x="88.9" y="43.8" width="42.79999999999998" height="14.300000000000004" fill="none" stroke="#aaa" stroke-width="0.9"/>
<line x1="80.6" y1="22.5" x2="80.6" y2="58.1" stroke="#777" stroke-width="1"/>
<line x1="88.9" y1="22.5" x2="88.9" y2="58.1" stroke="#777" stroke-width="1"/>
<rect x="19.1" y="14.3" width="10.2" height="21.7" fill="none" stroke="#bbb" stroke-width="0.8"/>
<rect x="19.1" y="44.3" width="10.2" height="13.200000000000003" fill="none" stroke="#bbb" stroke-width="0.8"/>
<rect x="140.3" y="14.3" width="11.199999999999989" height="21.7" fill="none" stroke="#bbb" stroke-width="0.8"/>
<rect x="140.3" y="44.3" width="11.199999999999989" height="21.400000000000006" fill="none" stroke="#bbb" stroke-width="0.8"/>
<text x="0" y="12.4" font-size="8.2" fill="#262626" stroke="#262626" stroke-width="0.28" transform="translate(39,0) scale(0.9,1)">清风大道</text>
<text x="0" y="12.4" font-size="8.2" fill="#262626" stroke="#262626" stroke-width="0.28" transform="translate(91,0) scale(0.9,1)">清风大道</text>
<text x="0" y="73" font-size="8.2" fill="#262626" stroke="#262626" stroke-width="0.28" transform="translate(39.5,0) scale(0.9,1)">高科大道</text>
<text x="0" y="73" font-size="8.2" fill="#262626" stroke="#262626" stroke-width="0.28" transform="translate(97,0) scale(0.9,1)">高科大道</text>
<text x="19.8" y="21.5" font-size="8.2" fill="#262626" stroke="#262626" stroke-width="0.28">宝</text>
<text x="19.8" y="31.5" font-size="8.2" fill="#262626" stroke="#262626" stroke-width="0.28">龙</text>
<text x="19.8" y="41" font-size="8.2" fill="#262626" stroke="#262626" stroke-width="0.28">一</text>
<text x="19.8" y="56" font-size="8.2" fill="#262626" stroke="#262626" stroke-width="0.28">路</text>
<text x="70.7" y="22" font-size="8.2" fill="#262626" stroke="#262626" stroke-width="0.28">宝</text>
<text x="70.7" y="42" font-size="8.2" fill="#262626" stroke="#262626" stroke-width="0.28">清</text>
<text x="70.7" y="62" font-size="8.2" fill="#262626" stroke="#262626" stroke-width="0.28">路</text>
<text x="39" y="35.7" font-size="8.2" fill="#262626" stroke="#262626" stroke-width="0.28">宝荷路</text>
<text x="91.2" y="35.7" font-size="8.2" fill="#262626" stroke="#262626" stroke-width="0.28">宝荷路</text>
<text x="142" y="13.2" font-size="8.2" fill="#262626" stroke="#262626" stroke-width="0.28">比</text>
<text x="142" y="23.5" font-size="8.2" fill="#262626" stroke="#262626" stroke-width="0.28">宝</text>
<text x="142" y="32.5" font-size="8.2" fill="#262626" stroke="#262626" stroke-width="0.28">二</text>
<text x="142" y="42" font-size="8.2" fill="#262626" stroke="#262626" stroke-width="0.28">路</text>
<text x="142" y="55.5" font-size="8.2" fill="#262626" stroke="#262626" stroke-width="0.28">碧</text>
<text x="142" y="64" font-size="8.2" fill="#262626" stroke="#262626" stroke-width="0.28">新</text>
<text x="142" y="73" font-size="8.2" fill="#262626" stroke="#262626" stroke-width="0.28">路</text>
<rect x="4.4" y="78.3" width="14.8" height="16.6" fill="#f6f6f6" stroke="#e3e3e3" stroke-width="0.6"/>
<text x="11.3" y="90.7" font-size="13.4" fill="#1a1a1a" stroke="#1a1a1a" stroke-width="0.15" text-anchor="middle">地</text>
<rect x="20.5" y="78.3" width="14.8" height="16.6" fill="#f6f6f6" stroke="#e3e3e3" stroke-width="0.6"/>
<text x="27.4" y="90.7" font-size="13.4" fill="#1a1a1a" stroke="#1a1a1a" stroke-width="0.15" text-anchor="middle">铁</text>
<rect x="36.6" y="78.3" width="14.8" height="16.6" fill="#f6f6f6" stroke="#e3e3e3" stroke-width="0.6"/>
<text x="43.5" y="90.7" font-size="13.4" fill="#1a1a1a" stroke="#1a1a1a" stroke-width="0.15" text-anchor="middle">施</text>
<rect x="52.7" y="78.3" width="14.8" height="16.6" fill="#f6f6f6" stroke="#e3e3e3" stroke-width="0.6"/>
<text x="59.6" y="90.7" font-size="13.4" fill="#1a1a1a" stroke="#1a1a1a" stroke-width="0.15" text-anchor="middle">工</text>
<rect x="68.8" y="78.3" width="14.8" height="16.6" fill="#f6f6f6" stroke="#e3e3e3" stroke-width="0.6"/>
<text x="75.7" y="90.7" font-size="13.4" fill="#1a1a1a" stroke="#1a1a1a" stroke-width="0.15" text-anchor="middle">，</text>
<rect x="84.9" y="78.3" width="14.8" height="16.6" fill="#f6f6f6" stroke="#e3e3e3" stroke-width="0.6"/>
<text x="91.8" y="90.7" font-size="13.4" fill="#1a1a1a" stroke="#1a1a1a" stroke-width="0.15" text-anchor="middle">车</text>
<rect x="101.0" y="78.3" width="14.8" height="16.6" fill="#f6f6f6" stroke="#e3e3e3" stroke-width="0.6"/>
<text x="107.9" y="90.7" font-size="13.4" fill="#1a1a1a" stroke="#1a1a1a" stroke-width="0.15" text-anchor="middle">辆</text>
<rect x="117.1" y="78.3" width="14.8" height="16.6" fill="#f6f6f6" stroke="#e3e3e3" stroke-width="0.6"/>
<text x="124.0" y="90.7" font-size="13.4" fill="#1a1a1a" stroke="#1a1a1a" stroke-width="0.15" text-anchor="middle">请</text>
<rect x="133.2" y="78.3" width="14.8" height="16.6" fill="#f6f6f6" stroke="#e3e3e3" stroke-width="0.6"/>
<text x="140.1" y="90.7" font-size="13.4" fill="#1a1a1a" stroke="#1a1a1a" stroke-width="0.15" text-anchor="middle">绕</text>
<rect x="149.3" y="78.3" width="14.8" height="16.6" fill="#f6f6f6" stroke="#e3e3e3" stroke-width="0.6"/>
<text x="156.2" y="90.7" font-size="13.4" fill="#1a1a1a" stroke="#1a1a1a" stroke-width="0.15" text-anchor="middle">行</text>
<path d="M84.9,29 L84.9,17.6 L137,17.6 L137,41.8 L84.9,41.8" fill="none" stroke="#111" stroke-width="2.7" stroke-linejoin="miter" stroke-linecap="butt"/>
<path d="M85.2,41.8 L85.2,53.5" fill="none" stroke="#111" stroke-width="2.7" stroke-linejoin="miter" stroke-linecap="butt"/>
<circle cx="84.7" cy="37" r="3.3" fill="#fff" stroke="#111" stroke-width="1.7"/>
<line x1="82.3" y1="37" x2="87.10000000000001" y2="37" stroke="#111" stroke-width="1.3"/>
</g>
<g transform="translate(437.1,312.1)"><path d="M84.9,32.5 L82.3,25.5 L87.5,25.5 Z" fill="#111"/></g>
<circle cx="522" cy="433.4" r="12.4" fill="none" stroke="#1a1a1a" stroke-width="1.9"/>
<text x="522" y="437.91" font-size="12.6" fill="#111" stroke="#111" stroke-width="0.2" text-anchor="middle" transform="translate(522,0) scale(0.88,1) translate(-522,0)">F6</text>
<g opacity="0.55">
<path d="M0,97 C60,92 130,85 184,65 S245,28 284,0" fill="none" stroke="#c8c8c8" stroke-width="1"/>
<path d="M0,150 C50,146 120,132 189,99 S265,45 305,0" fill="none" stroke="#c8c8c8" stroke-width="1"/>
</g>
<g font-weight="bold">
<text x="130" y="212" font-size="60" fill="#fff" fill-opacity="0.2" stroke="#808080" stroke-opacity="0.18" stroke-width="1.3" textLength="350" lengthAdjust="spacingAndGlyphs">深圳地铁网</text>
<text x="131" y="262" font-size="58" fill="#fff" fill-opacity="0.2" stroke="#808080" stroke-opacity="0.18" stroke-width="1.3" textLength="348" lengthAdjust="spacingAndGlyphs">szmetro.com</text>
</g>
<g fill="none" stroke="#a8a8a8" stroke-width="1.2">
<path d="M473.5,413.5 c-5.5,0 -9.5,3.6 -9.5,8 c0,2.6 1.4,4.8 3.5,6.3 l-0.8,2.8 l3.3,-1.8 c1.1,0.3 2.3,0.5 3.5,0.5"/>
<path d="M480.5,419.5 c-4.8,0 -8.5,3.1 -8.5,6.9 c0,3.8 3.7,6.9 8.5,6.9 c1,0 2,-0.1 2.9,-0.4 l2.8,1.5 l-0.7,-2.4 c1.9,-1.3 3.1,-3.3 3.1,-5.6 c0,-3.8 -3.6,-6.9 -8.1,-6.9 z"/>
</g>
<g fill="#a0a0a0"><circle cx="470" cy="418.5" r="0.9"/><circle cx="476" cy="418.5" r="0.9"/><circle cx="478" cy="424.5" r="0.8"/><circle cx="483" cy="424.5" r="0.8"/></g>
<text x="493.5" y="428.3" font-size="15.2" fill="#a2a2a2" stroke="#fff" stroke-width="1.4" paint-order="stroke" textLength="107" lengthAdjust="spacingAndGlyphs">深圳市轨道交通</text>
</svg>
</body></html>
